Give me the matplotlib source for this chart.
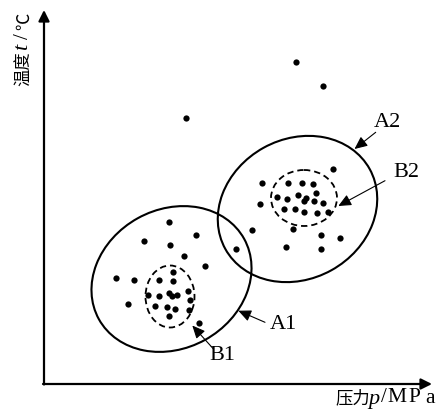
import matplotlib
matplotlib.use("Agg")
import matplotlib.pyplot as plt
from matplotlib.patches import Ellipse

# scatter points (pixel-like coords, y down)
b1_x = [172.5, 159.3, 173.2, 148.2, 158.8, 169.3, 172.2, 176.7, 187.7, 189.8,
        155.2, 166.5, 175.3, 189.2, 168.8]
b1_y = [272.7, 281.0, 281.7, 295.8, 297.3, 293.5, 297.3, 295.8, 291.7, 300.7,
        306.8, 307.5, 310.2, 311.0, 317.0]
a1_x = [169.3, 196.0, 144.3, 170.0, 183.8, 205.2, 115.7, 133.7, 127.5, 199.2]
a1_y = [223.3, 236.2, 242.0, 245.5, 256.5, 267.4, 278.7, 281.0, 304.7, 324.3]
b2_x = [288.2, 301.7, 313.2, 277.0, 286.8, 298.3, 305.5, 303.5, 316.3, 314.3,
        322.8, 283.7, 295.2, 304.3, 317.0, 328.3]
b2_y = [183.7, 184.2, 184.8, 198.4, 199.6, 195.5, 198.6, 202.3, 194.3, 202.3,
        204.0, 209.5, 209.8, 212.8, 213.5, 213.3]
a2_x = [333.3, 262.2, 259.5, 251.8, 293.3, 321.2, 340.2, 236.0, 285.7, 320.7]
a2_y = [169.6, 183.7, 205.2, 231.0, 230.3, 236.0, 239.2, 249.7, 248.3, 250.0]
out_x = [186.0, 296.0, 322.7]
out_y = [119.3, 63.3, 86.7]

# regions: (cx, cy, width, height, angle)
region_a1 = (171.5, 280.0, 166, 139, -29)
region_a2 = (297.5, 210.0, 165, 140, -29)
region_b1 = (170.0, 297.5, 49, 62, 0)
region_b2 = (304.0, 199.0, 66, 56, 0)

labels = ["A2", "B2", "A1", "B1"]
label_pos = [(387.5, 122.5), (406.5, 172.5), (283.5, 325.0), (222.5, 355.5)]
arrow_from = [(375.7, 133.3), (385.0, 181.7), (265.0, 323.3), (213.3, 349.8)]
arrow_to = [(354.5, 150.0), (338.3, 207.0), (238.3, 311.7), (192.3, 326.5)]

serif = "Liberation Serif"
cjk = ["Noto Sans CJK SC", "DejaVu Sans"]

fig = plt.figure(figsize=(4.46, 4.14), dpi=100)
ax = fig.add_axes([0, 0, 1, 1])
ax.set_xlim(0, 446)
ax.set_ylim(414, 0)
ax.axis("off")

# axes with arrows
ax.annotate("", xy=(44, 11), xytext=(44, 385.5),
            arrowprops=dict(arrowstyle="-|>,head_length=0.5,head_width=0.25",
                            lw=1.6, color="black", shrinkA=0, shrinkB=0,
                            mutation_scale=13))
ax.annotate("", xy=(432, 385), xytext=(43, 385),
            arrowprops=dict(arrowstyle="-|>,head_length=0.5,head_width=0.25",
                            lw=1.6, color="black", shrinkA=0, shrinkB=0,
                            mutation_scale=13))

for cx, cy, w, h, ang in (region_a1, region_a2):
    ax.add_patch(Ellipse((cx, cy), w, h, angle=ang, fill=False,
                         lw=1.5, ec="black"))
for cx, cy, w, h, ang in (region_b1, region_b2):
    ax.add_patch(Ellipse((cx, cy), w, h, angle=ang, fill=False,
                         lw=1.3, ec="black", ls=(0, (3.5, 2.2))))

for xs, ys in ((b1_x, b1_y), (a1_x, a1_y), (b2_x, b2_y), (a2_x, a2_y),
               (out_x, out_y)):
    ax.plot(xs, ys, "o", color="black", ms=4.5, mew=0)

for lab, (tx, ty), p0, p1 in zip(labels, label_pos, arrow_from, arrow_to):
    ax.text(tx, ty, lab, fontsize=16, family=serif, ha="center", va="center")
    ax.annotate("", xy=p1, xytext=p0,
                arrowprops=dict(arrowstyle="-|>,head_length=0.55,head_width=0.25",
                                lw=0.8, color="black", shrinkA=0, shrinkB=0,
                                mutation_scale=14))

# x label pieces
ax.text(352.5, 398.5, "压力", fontsize=12.5, family=cjk, ha="center", va="center")
ax.text(374, 399.5, "p", fontsize=16, family=serif, style="italic",
        ha="center", va="center")
ax.text(384, 398, "/", fontsize=15, family=serif, ha="center", va="center")
ax.text(397, 398, "M", fontsize=15.5, family=serif, ha="center", va="center")
ax.text(414, 398, "P", fontsize=15.5, family=serif, ha="center", va="center")
ax.text(430, 399, "a", fontsize=15.5, family=serif, ha="center", va="center")

# y label pieces (rotated)
ax.text(24, 69, "温度", fontsize=12.5, family=cjk, rotation=90, ha="center", va="center")
ax.text(23, 46.5, "t", fontsize=16, family=serif, style="italic",
        rotation=90, ha="center", va="center")
ax.text(23, 36, "/", fontsize=15, family=serif, rotation=90,
        ha="center", va="center")
ax.text(24, 21.5, "℃", fontsize=12.5, family=cjk, rotation=90, ha="center", va="center")

fig.savefig("out.png", dpi=100)
